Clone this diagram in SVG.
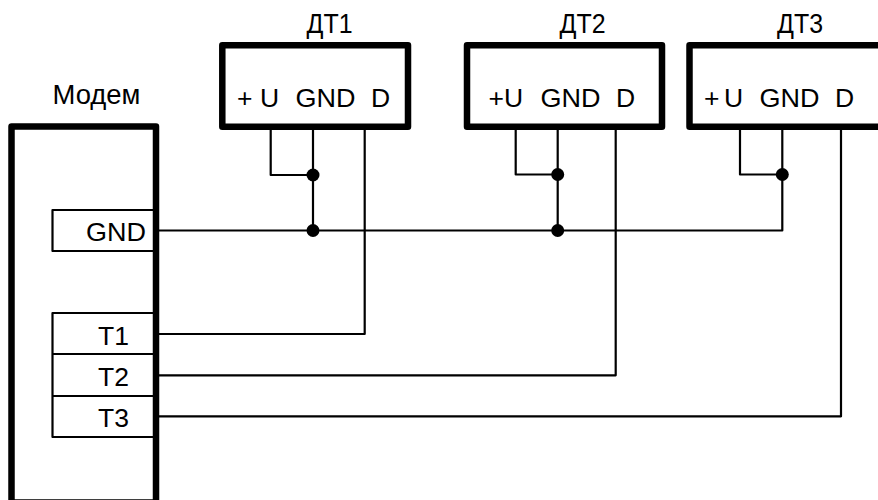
<svg xmlns="http://www.w3.org/2000/svg" width="878" height="500" viewBox="0 0 878 500">
<style>
text{font-family:"Liberation Sans",Arial,sans-serif;font-size:26.5px;fill:#000}
.title{font-size:27px}
.thick{fill:none;stroke:#000;stroke-width:6.5;stroke-linejoin:round}
.box{fill:none;stroke:#000;stroke-width:2.2;stroke-linejoin:round}
.wire{fill:none;stroke:#000;stroke-width:2.2;stroke-linejoin:round}
</style>
<rect width="878" height="500" fill="#fff"/>
<g id="connectors">
<path class="wire" d="M159 230.5H782.3V130M270.7 130V175H313M313 130V230.5M515.7 130V174.5H557.7M557.7 130V230.5M740 130V174.5H782.3"/>
<path class="wire" d="M159 334H364.7V130M159 375.3H615.7V130M159 416.3H841V130"/>
<circle cx="313" cy="175" r="6.5"/><circle cx="313" cy="230.5" r="6.5"/>
<circle cx="557.7" cy="174.5" r="6.5"/><circle cx="557.7" cy="230.5" r="6.5"/>
<circle cx="782.3" cy="174.5" r="6.5"/>
</g>
<g id="modem">
<rect class="thick" x="11.5" y="126.5" width="144.5" height="376"/>
<text class="title" x="52.5" y="104" textLength="88" lengthAdjust="spacingAndGlyphs">Модем</text>
<path class="box" d="M153 210H52.5V251H153"/>
<text x="86" y="241" textLength="60" lengthAdjust="spacingAndGlyphs">GND</text>
<path class="box" d="M153 313H52.5V437H153M52.5 354H153M52.5 396H153"/>
<text x="98" y="345">T1</text>
<text x="98" y="386">T2</text>
<text x="98" y="427">T3</text>
</g>
<g id="dt1">
<rect class="thick" x="222.3" y="45.3" width="185.7" height="81.5"/>
<text class="title" x="306.5" y="32.5" textLength="46" lengthAdjust="spacingAndGlyphs">ДТ1</text>
<text x="237" y="106.5">+</text><text x="260" y="106.5">U</text><text x="295.5" y="106.5" textLength="60" lengthAdjust="spacingAndGlyphs">GND</text><text x="371" y="106.5">D</text>
</g>
<g id="dt2">
<rect class="thick" x="467" y="45.3" width="195" height="81.5"/>
<text class="title" x="559.5" y="32.5" textLength="46" lengthAdjust="spacingAndGlyphs">ДТ2</text>
<text x="488.5" y="106.5">+U</text><text x="540.5" y="106.5" textLength="60" lengthAdjust="spacingAndGlyphs">GND</text><text x="616" y="106.5">D</text>
</g>
<g id="dt3">
<path class="thick" d="M885 45.3H689.5V126.8H885"/>
<text class="title" x="777" y="32.5" textLength="46" lengthAdjust="spacingAndGlyphs">ДТ3</text>
<text x="704" y="106.5">+</text><text x="724" y="106.5">U</text><text x="759.5" y="106.5" textLength="60" lengthAdjust="spacingAndGlyphs">GND</text><text x="835" y="106.5">D</text>
</g>
</svg>
